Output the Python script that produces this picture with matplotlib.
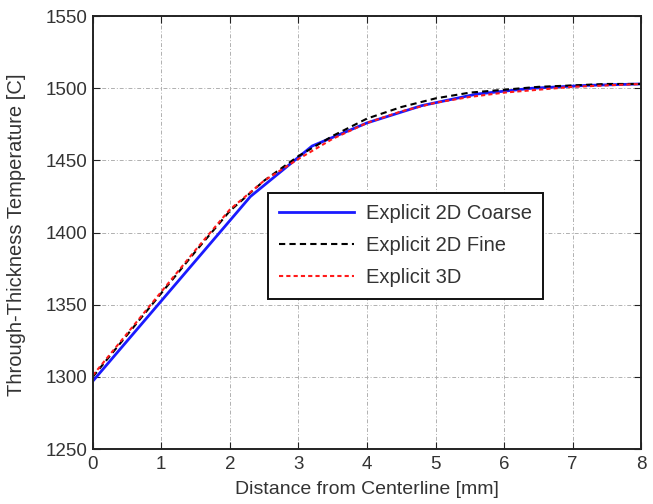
import matplotlib.pyplot as plt
import numpy as np

plt.rcParams['font.family'] = ['Liberation Sans', 'DejaVu Sans']

# coarse 2D (piecewise linear through few nodes)
x_coarse = [0, 2.3, 3.2, 4.0, 4.8, 5.6, 6.4, 7.2, 8.0]
t_coarse = [1297, 1425, 1460, 1476, 1488, 1496, 1500, 1502, 1503]

# fine 2D
x_fine = [0, 0.5, 1.0, 1.5, 2.0, 2.5, 3.0, 3.5, 4.0, 4.5, 5.0, 5.5, 6.0, 6.5, 7.0, 7.5, 8.0]
t_fine = [1300, 1329, 1358, 1387, 1415, 1436, 1453, 1467, 1479, 1487, 1493, 1497, 1499, 1501, 1502, 1503, 1503]

# 3D
x_3d = [0, 0.5, 1.0, 1.5, 2.0, 2.5, 3.0, 3.5, 4.0, 4.5, 5.0, 5.5, 6.0, 6.5, 7.0, 7.5, 8.0]
t_3d = [1301, 1330, 1359, 1388, 1416, 1436, 1451, 1465, 1476, 1484, 1490, 1494, 1497, 1499, 1501, 1502, 1503]

fig = plt.figure(figsize=(6.53, 5.04), dpi=100)
ax = fig.add_axes([0.142, 0.109, 0.840, 0.859])

ax.plot(x_coarse, t_coarse, color='#1a1aff', linewidth=2.0, label='Explicit 2D Coarse')
ax.plot(x_fine, t_fine, color='black', linestyle=(0, (3, 2)), linewidth=1.5, label='Explicit 2D Fine')
ax.plot(x_3d, t_3d, color='#ff1a1a', linestyle=(0, (2, 1.5)), linewidth=1.5, label='Explicit 3D')

ax.set_xlim(0, 8)
ax.set_ylim(1250, 1550)
ax.set_xticks(np.arange(0, 9, 1))
ax.set_yticks(np.arange(1250, 1551, 50))
ax.tick_params(direction='in', top=True, right=True, labelsize=13.5, length=5,
               colors='#222222', labelcolor='#333333')
ax.tick_params(axis='x', pad=5)
ax.tick_params(axis='y', pad=4)
ax.grid(True, color='#b0b0b0', linestyle=(0, (4, 2, 1, 2)), linewidth=0.7)
for s in ax.spines.values():
    s.set_linewidth(1.4)
    s.set_color('#222222')

ax.set_xlabel('Distance from Centerline [mm]', fontsize=14, color='#333333')
ax.set_ylabel('Through-Thickness Temperature [C]', fontsize=14.5, color='#333333')
ax.xaxis.set_label_coords(0.5, -0.074)
ax.yaxis.set_label_coords(-0.122, 0.495)

leg = ax.legend(loc='upper left', bbox_to_anchor=(0.319, 0.591), borderaxespad=0,
                fontsize=14.5, fancybox=False, framealpha=1, edgecolor='#111111',
                handlelength=3.75, handletextpad=0.6, borderpad=0.55, labelspacing=0.65)
leg.get_frame().set_linewidth(1.4)
for t in leg.get_texts():
    t.set_color('#333333')

fig.savefig('out.png', dpi=100)
